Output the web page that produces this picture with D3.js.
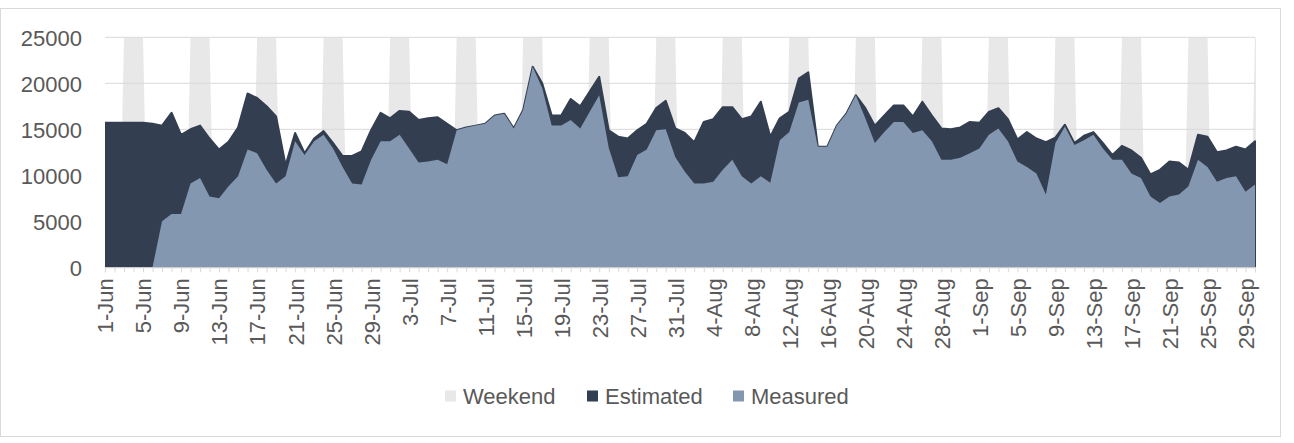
<!DOCTYPE html>
<html>
<head>
<meta charset="utf-8">
<script src="https://cdn.jsdelivr.net/npm/d3@7"></script>
<style>
  html, body { margin: 0; padding: 0; background: #fff; }
  svg { display: block; }
  text { font-family: "Liberation Sans", Arial, sans-serif; }
</style>
</head>
<body>
<svg id="chart" width="1294" height="443"></svg>
<script>
// ---- Data ----
const startDate = new Date(2017, 5, 1);   // 1-Jun
const endDate = new Date(2017, 8, 30);    // 30-Sep

const tickLabels = ["1-Jun","5-Jun","9-Jun","13-Jun","17-Jun","21-Jun","25-Jun","29-Jun",
  "3-Jul","7-Jul","11-Jul","15-Jul","19-Jul","23-Jul","27-Jul","31-Jul",
  "4-Aug","8-Aug","12-Aug","16-Aug","20-Aug","24-Aug","28-Aug",
  "1-Sep","5-Sep","9-Sep","13-Sep","17-Sep","21-Sep","25-Sep","29-Sep"];

const yTicks = [0, 5000, 10000, 15000, 20000, 25000];

// Weekend days (Sat & Sun)
const weekendDates = ["3-Jun","4-Jun","10-Jun","11-Jun","17-Jun","18-Jun","24-Jun","25-Jun",
  "1-Jul","2-Jul","8-Jul","9-Jul","15-Jul","16-Jul","22-Jul","23-Jul","29-Jul","30-Jul",
  "5-Aug","6-Aug","12-Aug","13-Aug","19-Aug","20-Aug","26-Aug","27-Aug",
  "2-Sep","3-Sep","9-Sep","10-Sep","16-Sep","17-Sep","23-Sep","24-Sep","30-Sep"];

const estimated = [
  15700,15700,15700,15700,15700,15600,15400,16800,14400,15000,
  15400,14000,12800,13650,15200,18900,18400,17500,16400,11100,
  14600,12400,14000,14800,13500,12100,12100,12600,14900,16800,
  16200,17000,16900,16000,16200,16300,15600,14900,15200,15400,
  15600,16500,16700,15100,17100,21800,20000,16500,16500,18300,
  17500,19100,20700,14900,14200,14000,14900,15600,17300,18100,
  15100,14600,13600,15800,16100,17400,17400,16100,16400,18000,
  14200,16200,16900,20500,21200,13100,13100,15400,16700,18700,
  17300,15400,16500,17600,17600,16400,18000,16500,15100,15000,
  15200,15800,15700,16900,17300,16100,13900,14700,14000,13600,
  14100,15500,13500,14300,14700,13500,12200,13200,12700,11900,
  10100,10600,11500,11400,10600,14400,14200,12500,12700,13100,
  12800,13700];

const measured = [
  0,0,0,0,0,0,5000,5800,5800,9100,
  9700,7700,7500,8800,9900,12800,12400,10600,9100,9900,
  13700,12200,13700,14400,12900,10900,9100,9000,11700,13700,
  13700,14400,12900,11400,11500,11700,11200,14900,15200,15400,
  15600,16500,16700,15100,17100,21800,19500,15400,15400,16000,
  15100,16900,18700,13000,9800,9900,12200,12800,14900,15000,
  12000,10400,9100,9100,9300,10600,11700,9900,9100,9900,
  9200,13800,14700,17900,18200,13100,13100,15400,16700,18700,
  16200,13500,14700,15800,15800,14600,14900,13700,11700,11700,
  11900,12400,12900,14400,15100,13700,11500,10900,10200,7900,
  13500,15300,13300,13800,14400,12900,11700,11700,10200,9700,
  7700,7000,7700,7900,8800,11700,10900,9300,9700,9900,
  8200,9000];

const seriesNames = ["Weekend", "Estimated", "Measured"];
const seriesColors = ["#e8e8e8", "#333f50", "#8497b0"];

// ---- Build ----
const fmt = d3.timeFormat("%-d-%b");
const days = d3.timeDay.range(startDate, d3.timeDay.offset(endDate, 1));
const weekendSet = new Set(weekendDates);
const yMax = d3.max(yTicks);
const rows = days.map((d, i) => ({
  date: d,
  label: fmt(d),
  est: estimated[i],
  meas: measured[i],
  wk: weekendSet.has(fmt(d))
}));

const svg = d3.select("#chart");
const W = 1294, H = 443;
const margin = { left: 105, right: W - 1255, top: 37.3, bottom: H - 267.3 };

const x = d3.scaleTime().domain([startDate, endDate]).range([margin.left, W - margin.right]);
const y = d3.scaleLinear().domain([0, yMax]).range([H - margin.bottom, margin.top]);

// Chart border
svg.append("rect")
  .attr("x", 0.5).attr("y", 8.5).attr("width", 1280).attr("height", 428)
  .attr("fill", "#fff").attr("stroke", "#d9d9d9").attr("stroke-width", 1);

svg.append("clipPath").attr("id", "plotClip")
  .append("rect")
  .attr("x", x.range()[0]).attr("y", y(yMax))
  .attr("width", x.range()[1] - x.range()[0] + 1)
  .attr("height", y(0) - y(yMax));

// Weekend bands: runs of weekend days, slightly tapered toward the base
const runs = [];
rows.forEach((r, i) => {
  if (r.wk && (i === 0 || !rows[i - 1].wk)) runs.push({ start: r.date, end: r.date });
  else if (r.wk) runs[runs.length - 1].end = r.date;
});
const dayW = x(d3.timeDay.offset(startDate, 1)) - x(startDate);
const taper = 0.5 * dayW;
svg.append("g").attr("clip-path", "url(#plotClip)")
  .selectAll("path")
  .data(runs)
  .join("path")
  .attr("fill", seriesColors[0])
  .attr("d", r => {
    const x0 = x(r.start), x1 = x(d3.timeDay.offset(r.end, 1));
    const pts = [[x0, y(yMax)], [x1, y(yMax)], [x1 + taper, y(0)], [x0 - taper, y(0)]];
    return d3.line()(pts) + "Z";
  });

// Gridlines
svg.append("g")
  .selectAll("line")
  .data(yTicks)
  .join("line")
  .attr("x1", x.range()[0]).attr("x2", x.range()[1])
  .attr("y1", d => y(d)).attr("y2", d => y(d))
  .attr("stroke", "#d9d9d9").attr("stroke-width", 1);

// Estimated area
svg.append("path")
  .datum(rows)
  .attr("fill", seriesColors[1])
  .attr("stroke", seriesColors[1])
  .attr("stroke-width", 2)
  .attr("stroke-linejoin", "round")
  .attr("clip-path", "url(#plotClip)")
  .attr("d", d3.area().x(d => x(d.date)).y0(y(0)).y1(d => y(d.est)));

// Measured area
svg.append("path")
  .datum(rows)
  .attr("fill", seriesColors[2])
  .attr("d", d3.area().x(d => x(d.date)).y0(y(0)).y1(d => y(d.meas)));

// X axis: daily minor ticks
const xAxisMinor = d3.axisBottom(x).tickValues(days).tickSize(5).tickFormat("");
const gMinor = svg.append("g").attr("transform", `translate(0,${y(0)})`).call(xAxisMinor);
gMinor.select(".domain").attr("stroke", "#d9d9d9");
gMinor.selectAll(".tick line").attr("stroke", "#d9d9d9");

// X axis labels
const labelDays = days.filter(d => tickLabels.includes(fmt(d)));
const xAxis = d3.axisBottom(x).tickValues(labelDays).tickSize(0).tickFormat(d => fmt(d));
const gx = svg.append("g").attr("transform", `translate(0,${y(0)})`).call(xAxis);
gx.select(".domain").remove();
gx.selectAll(".tick text")
  .attr("font-size", 22)
  .attr("font-family", "Liberation Sans, Arial, sans-serif")
  .attr("fill", "#595959")
  .attr("text-anchor", "end")
  .attr("transform", "rotate(-90)")
  .attr("x", -11)
  .attr("y", 0)
  .attr("dy", "0.36em");

// Y axis labels
const yAxis = d3.axisLeft(y).tickValues(yTicks).tickSize(0).tickFormat(d3.format("d"));
const gy = svg.append("g").attr("transform", `translate(${margin.left - 23},0)`).call(yAxis);
gy.select(".domain").remove();
gy.selectAll(".tick text")
  .attr("font-size", 22)
  .attr("font-family", "Liberation Sans, Arial, sans-serif")
  .attr("fill", "#595959")
  .attr("x", 0)
  .attr("dy", "0.36em");

// Legend
const legendX = [445, 587, 733];
const legend = svg.append("g").attr("transform", "translate(0,396)");
const items = legend.selectAll("g").data(seriesNames).join("g")
  .attr("transform", (d, i) => `translate(${legendX[i]},0)`);
items.append("rect")
  .attr("x", 0).attr("y", -5.5).attr("width", 11).attr("height", 11)
  .attr("fill", (d, i) => seriesColors[i]);
items.append("text")
  .attr("x", 18).attr("y", 0).attr("dy", "0.36em")
  .attr("font-size", 22)
  .attr("fill", "#595959")
  .text(d => d);
</script>
</body>
</html>
